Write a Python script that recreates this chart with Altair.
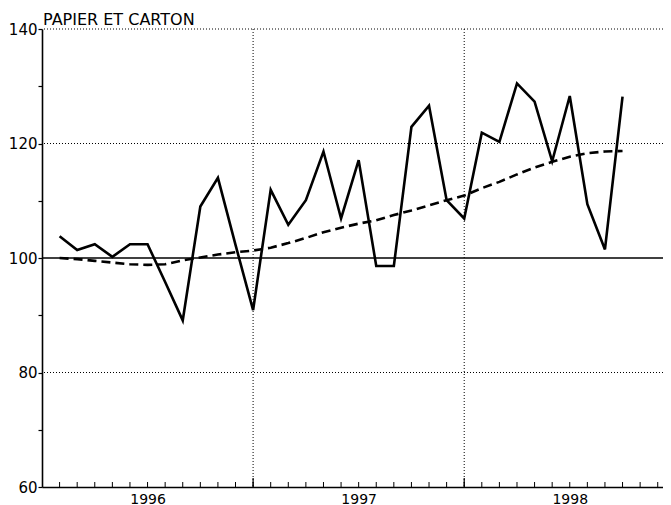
import altair as alt
import pandas as pd

# ---- data ----
titre = "PAPIER ET CARTON"
annees = ["1996", "1997", "1998"]
mois = list(range(1, 34))  # month index, Jan 1996 = 1 ... Sep 1998 = 33
indice = [103.8, 101.4, 102.4, 100.2, 102.4, 102.4, 95.8, 89.1, 109.0, 114.0, 102.3, 90.9,
          111.9, 105.8, 110.1, 118.6, 106.9, 117.1, 98.6, 98.6, 122.9, 126.6, 110.1, 106.9,
          121.9, 120.3, 130.5, 127.3, 116.9, 128.3, 109.4, 101.5, 128.2]
tendance = [100.0, 99.8, 99.5, 99.2, 98.9, 98.8, 98.9, 99.6, 100.1, 100.6, 101.0, 101.3,
            101.8, 102.6, 103.5, 104.5, 105.3, 106.0, 106.6, 107.5, 108.3, 109.2, 110.1, 110.9,
            112.2, 113.3, 114.6, 115.8, 116.8, 117.7, 118.3, 118.6, 118.7]
grille_y = [80, 120, 140]
ligne_base = [100]
grille_x = [12, 24]
graduations_x = list(range(1, 36))
graduations_y = list(range(60, 141, 10))
centres_annees = [6, 18, 30]

W, H = 621, 458
FONT = "DejaVu Sans"

df = pd.DataFrame({"t": mois, "indice": indice, "tendance": tendance})

xs = alt.Scale(domain=[0, 35.3], nice=False, zero=False)
ys = alt.Scale(domain=[60, 140], nice=False, zero=False)

label_expr_x = "[" + ",".join("'%s'" % a for a in annees) + "][floor(datum.value/12)]"

x_axis = alt.Axis(values=centres_annees, labelExpr=label_expr_x, ticks=False, grid=False,
                  domain=True, domainColor="black", domainWidth=1.6, labelColor="black",
                  labelFont=FONT, labelFontSize=14, labelPadding=5, title=None)
y_axis = alt.Axis(values=graduations_y, labelExpr="datum.value % 20 == 0 ? datum.label : ''",
                  tickSize=4, tickColor="black", tickWidth=1.2, grid=False,
                  domain=True, domainColor="black", domainWidth=1.6, labelColor="black",
                  labelFont=FONT, labelFontSize=15, labelPadding=1, title=None)

gy = alt.Chart(pd.DataFrame({"v": grille_y})).mark_rule(
    color="black", strokeDash=[1, 2], strokeWidth=1
).encode(y=alt.Y("v:Q", scale=ys, axis=y_axis))

base100 = alt.Chart(pd.DataFrame({"v": ligne_base})).mark_rule(
    color="black", strokeWidth=1.4
).encode(y=alt.Y("v:Q", scale=ys, axis=y_axis))

gx = alt.Chart(pd.DataFrame({"v": grille_x})).mark_rule(
    color="black", strokeDash=[1, 2], strokeWidth=1
).encode(x=alt.X("v:Q", scale=xs, axis=x_axis))

gx_ticks = alt.Chart(pd.DataFrame({"v": grille_x})).mark_rule(
    color="black", strokeWidth=1.2
).encode(x=alt.X("v:Q", scale=xs, axis=x_axis), y=alt.value(H), y2=alt.value(H - 9))

ticks = alt.Chart(pd.DataFrame({"v": graduations_x})).mark_rule(
    color="black", strokeWidth=1
).encode(x=alt.X("v:Q", scale=xs, axis=x_axis), y=alt.value(H), y2=alt.value(H - 5))

solid = alt.Chart(df).mark_line(color="black", strokeWidth=2.6, strokeJoin="miter").encode(
    x=alt.X("t:Q", scale=xs, axis=x_axis),
    y=alt.Y("indice:Q", scale=ys, axis=y_axis),
)

dashed = alt.Chart(df).mark_line(color="black", strokeWidth=2.6, strokeDash=[9, 5]).encode(
    x=alt.X("t:Q", scale=xs, axis=x_axis),
    y=alt.Y("tendance:Q", scale=ys, axis=y_axis),
)

title = alt.Chart(pd.DataFrame({"titre": [titre]})).mark_text(
    align="left", baseline="alphabetic", font=FONT, fontSize=16, color="black", dx=1, dy=-4
).encode(x=alt.value(0), y=alt.value(0), text="titre:N")

chart = alt.layer(gy, gx, base100, gx_ticks, ticks, dashed, solid, title).properties(
    width=W, height=H,
    autosize=alt.AutoSizeParams(type="none"),
    padding={"left": 34, "top": 21, "right": 0, "bottom": 18},
).configure(background="white", view=alt.ViewConfig(stroke=None))

chart.save("out.html", embed_options={"renderer": "svg", "actions": False})
